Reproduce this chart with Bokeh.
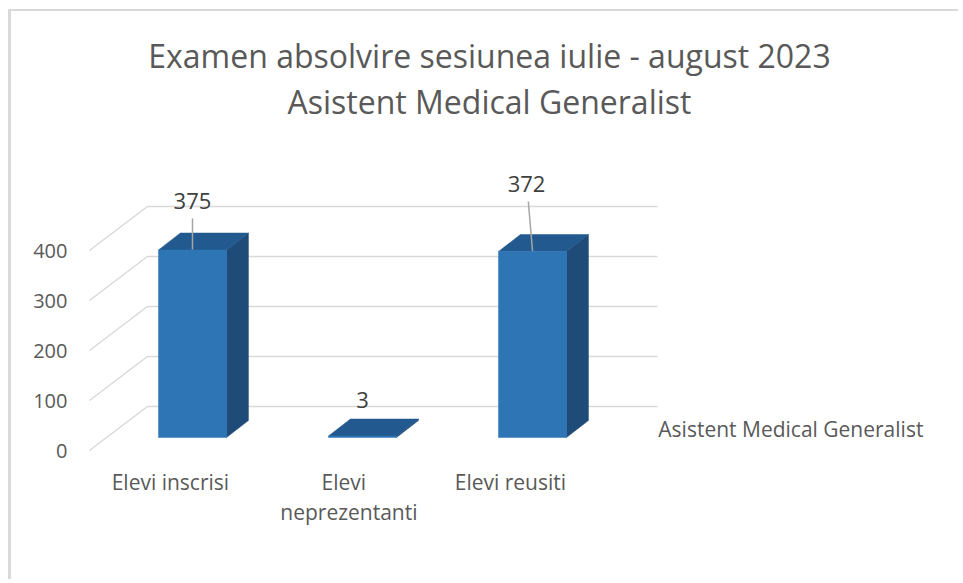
from bokeh.plotting import figure
from bokeh.models import Range1d, FixedTicker, Label, ColumnDataSource
from bokeh.core.properties import value
from bokeh.embed import file_html
from bokeh.resources import INLINE

# ---- data ----
categories = ["Elevi inscrisi", "Elevi\nneprezentanti", "Elevi reusiti"]
values = [375, 3, 372]
series_name = "Asistent Medical Generalist"
title_lines = ["Examen absolvire sesiunea iulie - august 2023", "Asistent Medical Generalist"]
y_ticks = [0, 100, 200, 300, 400]

FONT = "Open Sans"
TXT = "#595959"
GRID = "#D9D9D9"
FRONT = "#2E75B6"
TOP = "#22598F"
SIDE = "#1E4B78"

# 3-D geometry (in data units)
WALL_DX, WALL_DY = 0.341, 88      # depth of the chart box
BAR_DY0 = 26                      # bars pushed back from the front plane
BAR_DX, BAR_DY = 0.129, 34        # depth of each bar
HALF_W = 0.2
X_FRONT_LEFT = -0.606
X_BACK_LEFT = X_FRONT_LEFT + WALL_DX
X_BACK_RIGHT = 2.735

p = figure(width=950, height=570, output_backend="svg", toolbar_location=None,
           x_range=Range1d(-0.6176, 4.5235), y_range=Range1d(-262, 878),
           x_axis_location=None, min_border_left=76, min_border_right=0,
           min_border_top=0, min_border_bottom=0)
p.styles = {"border-top": "2px solid #D9D9D9", "border-left": "3px solid #D9D9D9",
            "margin-left": "8px", "margin-top": "9px"}
p.outline_line_color = None
p.grid.visible = False
p.background_fill_color = "white"
p.border_fill_color = "white"

ax = p.yaxis[0]
ax.ticker = FixedTicker(ticks=y_ticks)
ax.axis_line_color = None
ax.major_tick_line_color = None
ax.minor_tick_line_color = None
ax.major_label_standoff = 14
ax.major_label_text_font = FONT
ax.major_label_text_font_size = "20px"
ax.major_label_text_color = TXT

# gridlines: side wall diagonals + back wall horizontals
for t in y_ticks:
    p.line([X_FRONT_LEFT, X_BACK_LEFT, X_BACK_RIGHT], [t, t + WALL_DY, t + WALL_DY],
           line_color=GRID, line_width=1.5)

# bars
xs = list(range(len(values)))
front_x, front_y, top_x, top_y, side_x, side_y = [], [], [], [], [], []
for i, v in zip(xs, values):
    x0, x1 = i - HALF_W, i + HALF_W
    b, t = BAR_DY0, BAR_DY0 + v
    front_x.append([x0, x1, x1, x0]); front_y.append([b, b, t, t])
    top_x.append([x0, x1, x1 + BAR_DX, x0 + BAR_DX]); top_y.append([t, t, t + BAR_DY, t + BAR_DY])
    side_x.append([x1, x1 + BAR_DX, x1 + BAR_DX, x1]); side_y.append([b, b + BAR_DY, t + BAR_DY, t])
p.patches(side_x, side_y, fill_color=SIDE, line_color=SIDE, line_width=0.5)
p.patches(top_x, top_y, fill_color=TOP, line_color=TOP, line_width=0.5)
p.patches(front_x, front_y, fill_color=FRONT, line_color=FRONT, line_width=0.5)

# data labels (positions moved like in the source chart)
lab_dx = [0.0, 0.0, -0.035]
lab_dy = [99, 73, 136]
leader = [True, False, True]
lab_src = ColumnDataSource(dict(x=[i + d for i, d in zip(xs, lab_dx)],
                                y=[BAR_DY0 + v + d for v, d in zip(values, lab_dy)],
                                t=[str(v) for v in values]))
p.text("x", "y", text="t", source=lab_src, text_align="center", text_baseline="middle",
       text_font=value(FONT), text_font_size="22px", text_color="#404040")
for i, v, d, dd, has in zip(xs, values, lab_dx, lab_dy, leader):
    if has:
        p.line([i + d * 0.7, i], [BAR_DY0 + v + dd - 36, BAR_DY0 + v + 1],
               line_color="#A6A6A6", line_width=1.5)

# category labels (one text row per wrapped line)
rows_x, rows_y, rows_t = [], [], []
for i, c in zip(xs, categories):
    parts = c.split("\n")
    for k, part in enumerate(parts):
        shift = 0.03 * k if len(parts) > 1 else 0.0
        rows_x.append(i - 0.13 + 0.02 * (len(parts) > 1) + shift)
        rows_y.append(-62 - 60 * k)
        rows_t.append(part)
cat_src = ColumnDataSource(dict(x=rows_x, y=rows_y, t=rows_t))
p.text("x", "y", text="t", source=cat_src, text_align="center", text_baseline="middle",
       text_font=value(FONT), text_font_size="21px", text_color=TXT)

# legend text
p.add_layout(Label(x=X_BACK_RIGHT + 0.005, y=44, text=series_name, text_align="left",
                   text_baseline="middle", text_font=FONT, text_font_size="21px", text_color=TXT))

# title
for line, yy in zip(title_lines, [790, 698]):
    p.add_layout(Label(x=1.747, y=yy, text=line, text_align="center", text_baseline="middle",
                       text_font=FONT, text_font_size="32px", text_color=TXT))

open("out.html", "w").write(file_html(p, INLINE))
